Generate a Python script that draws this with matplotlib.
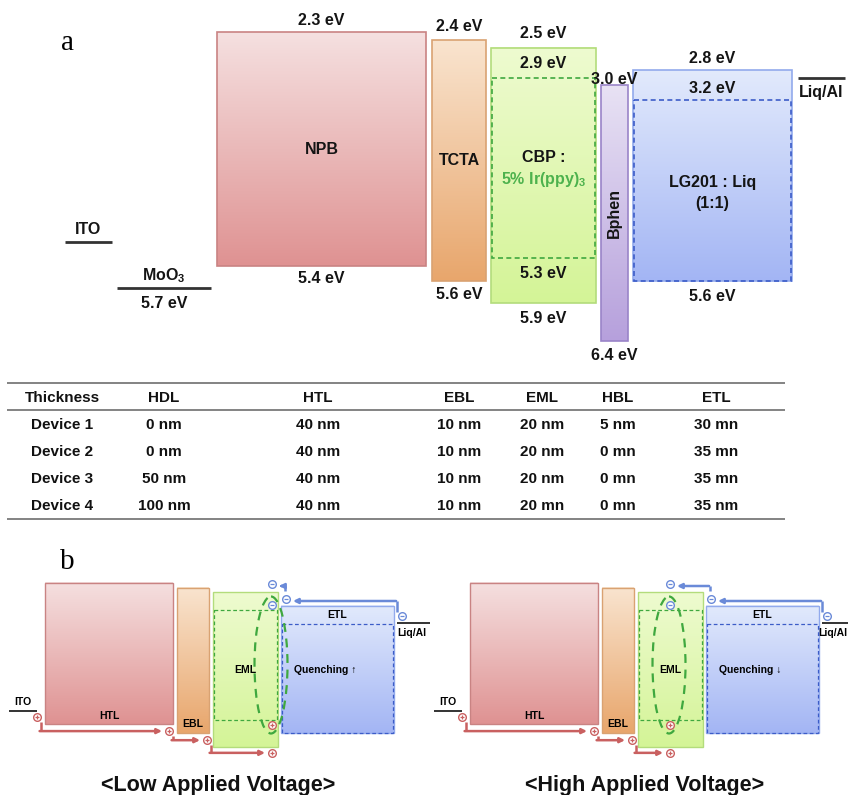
import numpy as np
import matplotlib
matplotlib.use('Agg')
import matplotlib.pyplot as plt
from matplotlib.patches import Rectangle, Ellipse
from matplotlib.colors import to_rgb

plt.rcParams['font.family'] = ['Liberation Sans', 'DejaVu Sans']
plt.rcParams['font.weight'] = 'bold'
plt.rcParams['mathtext.fontset'] = 'custom'
plt.rcParams['mathtext.rm'] = 'Liberation Sans:bold'
plt.rcParams['mathtext.bf'] = 'Liberation Sans:bold'

# ---------------- data: panel a (energy levels, eV) ----------------
layers = ['NPB', 'TCTA', 'CBP', 'Bphen', 'LG201']
lumo = [2.3, 2.4, 2.5, 3.0, 2.8]
homo = [5.4, 5.6, 5.9, 6.4, 5.6]
dopant_levels = [2.9, 5.3]      # Ir(ppy)3 inside CBP
etl_inner_lumo = 3.2            # LG201:Liq
ito_level = 5.09
moo3_level = 5.7
liqal_level = 2.9

# ---------------- data: table ----------------
table_cols = ['Thickness', 'HDL', 'HTL', 'EBL', 'EML', 'HBL', 'ETL']
device_names = ['Device 1', 'Device 2', 'Device 3', 'Device 4']
hdl = ['0 nm', '0 nm', '50 nm', '100 nm']
htl = ['40 nm', '40 nm', '40 nm', '40 nm']
ebl = ['10 nm', '10 nm', '10 nm', '10 nm']
eml = ['20 nm', '20 nm', '20 nm', '20 mn']
hbl = ['5 nm', '0 mn', '0 mn', '0 mn']
etl = ['30 mn', '35 mn', '35 mn', '35 nm']

# ---------------- data: panel b (schematic) ----------------
b_layers = ['HTL', 'EBL', 'EML', 'ETL']
b_lumo = [2.3, 2.4, 2.5, 2.8]
b_homo = [5.4, 5.6, 5.9, 5.6]
b_eml_inner = [2.9, 5.3]
b_etl_inner = 3.2
b_ito = 5.11
b_liqal = 3.18
b_titles = ['<Low Applied Voltage>', '<High Applied Voltage>']
b_quench = ['Quenching \u2191', 'Quenching \u2193']

# ---------------- styling ----------------
W, H = 848, 795
fig = plt.figure(figsize=(W / 100, H / 100), dpi=100)

col_top = ['#f5e0e0', '#f9e4cf', '#eefbd0', '#e8e2f4', '#e2eafc']
col_bot = ['#df9292', '#e8a66c', '#d4f497', '#b6a0dc', '#a3b5f4']
col_edge = ['#c98383', '#d9a272', '#b3dc7c', '#9a84c8', '#92aaec']
green_dash = '#3fa83f'
blue_dash = '#3c5cc8'

A_SCALE, A_OFF = 75.2, -140.5   # pixel = A_OFF + A_SCALE*E
B_SCALE, B_OFF = 45.5, 478.4


def Ea(py):
    return (py - A_OFF) / A_SCALE


def Eb(py):
    return (py - B_OFF) / B_SCALE


def grad_rect(ax, x0, x1, etop, ebot, ctop, cbot, edge, z=1, lw=1.0):
    n = 200
    t = np.linspace(0, 1, n)[:, None]
    c0 = np.array(to_rgb(ctop))
    c1 = np.array(to_rgb(cbot))
    img = (c0[None, :] * (1 - t) + c1[None, :] * t)[:, None, :]
    ax.imshow(img, extent=(x0, x1, ebot, etop), origin='upper', aspect='auto',
              interpolation='bilinear', zorder=z)
    ax.add_patch(Rectangle((x0, etop), x1 - x0, ebot - etop, fill=False,
                           ec=edge, lw=lw, zorder=z + 0.5))


# ================= panel a =================
ax_a = fig.add_axes([0, 1 - 370 / H, 1, 370 / H])
ax_a.set_axis_off()
a_x0 = [217, 432, 491, 601, 633]
a_x1 = [426, 486, 596, 628, 792]
fs = 11.5
txtc = '#141414'

for i, name in enumerate(layers):
    grad_rect(ax_a, a_x0[i], a_x1[i], lumo[i], homo[i], col_top[i], col_bot[i], col_edge[i], z=1, lw=1.2)

# dashed inner levels
ax_a.add_patch(Rectangle((a_x0[2] + 1, dopant_levels[0]), a_x1[2] - a_x0[2] - 2,
                         dopant_levels[1] - dopant_levels[0], fill=False, ec=green_dash,
                         lw=1.2, ls=(0, (3, 2)), zorder=3))
ax_a.add_patch(Rectangle((a_x0[4] + 1, etl_inner_lumo), a_x1[4] - a_x0[4] - 2,
                         homo[4] - etl_inner_lumo, fill=False, ec=blue_dash,
                         lw=1.2, ls=(0, (3, 2)), zorder=3))


def la(x, e, dpx, s, **kw):
    ax_a.text(x, e + dpx / A_SCALE, s, ha='center', va='center', fontsize=fs,
              color=txtc, zorder=5, **kw)


cx = [(a_x0[i] + a_x1[i]) / 2 for i in range(len(layers))]
top_off = [-12, -13, -14, -6, -12]
bot_off = [13, 14, 15, 15, 16]
for i in range(len(layers)):
    la(cx[i], lumo[i], top_off[i], f'{lumo[i]:.1f} eV')
    la(cx[i], homo[i], bot_off[i], f'{homo[i]:.1f} eV')
la(cx[2], dopant_levels[0], -14, f'{dopant_levels[0]:.1f} eV')
la(cx[2], dopant_levels[1], 15, f'{dopant_levels[1]:.1f} eV')
la(cx[4], etl_inner_lumo, -12, f'{etl_inner_lumo:.1f} eV')

# layer names
la(cx[0], (lumo[0] + homo[0]) / 2, 0, 'NPB')
la(cx[1], (lumo[1] + homo[1]) / 2, 0, 'TCTA')
mid = (lumo[2] + homo[2]) / 2
la(cx[2], mid, -18, 'CBP :')
ax_a.text(cx[2], mid + 4 / A_SCALE, '5% Ir(ppy)$_\\mathbf{3}$', ha='center', va='center',
          fontsize=fs, color='#4db24d', zorder=5)
ax_a.text(cx[3], (lumo[3] + homo[3]) / 2, 'Bphen', rotation=90, ha='center', va='center',
          fontsize=fs, color=txtc, zorder=5)
mid4 = (etl_inner_lumo + homo[4]) / 2
la(cx[4], mid4, -8, 'LG201 : Liq')
la(cx[4], mid4, 13, '(1:1)')

# electrodes
ax_a.plot([65, 112], [ito_level, ito_level], color='#333333', lw=2.0, solid_capstyle='butt')
la(88, ito_level, -13, 'ITO')
ax_a.plot([117, 211], [moo3_level, moo3_level], color='#333333', lw=2.0, solid_capstyle='butt')
la(164, moo3_level, -12, 'MoO$_3$')
la(164, moo3_level, 15, f'{moo3_level:.1f} eV')
ax_a.plot([798, 845], [liqal_level, liqal_level], color='#333333', lw=2.0, solid_capstyle='butt')
la(821, liqal_level, 15, 'Liq/Al')

ax_a.set_xlim(0, W)
ax_a.set_ylim(Ea(370), Ea(0))

# ================= overlay: table & panel letters =================
ax_t = fig.add_axes([0, 0, 1, 1], facecolor='none')
ax_t.set_axis_off()
ax_t.set_xlim(0, W)
ax_t.set_ylim(H, 0)

ax_t.text(67, 43, 'a', fontsize=21, family=['Liberation Serif', 'DejaVu Serif'],
          fontweight='normal', ha='center', va='center')
ax_t.text(67, 562, 'b', fontsize=21, family=['Liberation Serif', 'DejaVu Serif'],
          fontweight='normal', ha='center', va='center')

col_x = [62, 164, 318, 459, 542, 618, 716]
row_y = [398, 425, 452, 479, 506]
for j, c in enumerate(table_cols):
    ax_t.text(col_x[j], row_y[0], c, ha='center', va='center', fontsize=11, color='#111111')
rows = list(zip(device_names, hdl, htl, ebl, eml, hbl, etl))
for r, vals in enumerate(rows):
    for j, v in enumerate(vals):
        ax_t.text(col_x[j], row_y[r + 1], v, ha='center', va='center', fontsize=11, color='#111111')
for yy in [383, 410, 519]:
    ax_t.plot([7, 785], [yy, yy], color='#7a7a7a', lw=1.3, solid_capstyle='butt')

for k, t in enumerate(b_titles):
    ax_t.text([218, 645][k], 785, t, ha='center', va='center', fontsize=15.5, color='#111111')

# ================= panel b =================
ax_b = fig.add_axes([0, 0, 1, 255 / H], facecolor='none')
ax_b.set_axis_off()
b_x0 = [45, 177, 213, 281]
b_x1 = [173, 209, 278, 394]
layer_idx = [0, 1, 2, 4]
red = '#c96060'
blue = '#6a8ad8'
fsb = 7.5


def pb(dpx):
    return dpx / B_SCALE


def hole(x, e):
    ax_b.plot([x], [e], marker='o', ms=5.5, mfc='white', mec=red, mew=1.0, zorder=8)
    ax_b.plot([x], [e], marker='+', ms=3.5, mec=red, mew=0.9, zorder=9)


def electron(x, e):
    ax_b.plot([x], [e], marker='o', ms=5.5, mfc='white', mec=blue, mew=1.0, zorder=8)
    ax_b.plot([x], [e], marker='_', ms=3.5, mec=blue, mew=0.9, zorder=9)


def l_arrow(xv, e0, e1, x2, color):
    ax_b.plot([xv, xv], [e0, e1], color=color, lw=1.8, zorder=7, solid_capstyle='butt')
    ax_b.annotate('', xy=(x2, e1), xytext=(xv - 0.9, e1),
                  arrowprops=dict(arrowstyle='-|>', color=color, lw=1.8,
                                  shrinkA=0, shrinkB=0, mutation_scale=7), zorder=7)


for k in range(2):
    dx = 425 * k
    X0 = [x + dx for x in b_x0]
    X1 = [x + dx for x in b_x1]
    for i, name in enumerate(b_layers):
        li = layer_idx[i]
        grad_rect(ax_b, X0[i], X1[i], b_lumo[i], b_homo[i], col_top[li], col_bot[li], col_edge[li], z=1, lw=1.0)
    ax_b.add_patch(Rectangle((X0[2] + 1, b_eml_inner[0]), X1[2] - X0[2] - 2,
                             b_eml_inner[1] - b_eml_inner[0], fill=False, ec=green_dash,
                             lw=0.9, ls=(0, (3, 2)), zorder=3))
    ax_b.add_patch(Rectangle((X0[3] + 1, b_etl_inner), X1[3] - X0[3] - 2,
                             b_homo[3] - b_etl_inner, fill=False, ec=blue_dash,
                             lw=0.9, ls=(0, (3, 2)), zorder=3))
    cxb = [(X0[i] + X1[i]) / 2 for i in range(4)]
    ax_b.text(cxb[0], b_homo[0] - pb(8), 'HTL', ha='center', va='center', fontsize=fsb, zorder=6)
    ax_b.text(cxb[1], b_homo[1] - pb(9), 'EBL', ha='center', va='center', fontsize=fsb, zorder=6)
    ax_b.text(cxb[2], Eb(670), 'EML', ha='center', va='center', fontsize=fsb, zorder=6)
    ax_b.text(cxb[3], (b_lumo[3] + b_etl_inner) / 2, 'ETL', ha='center', va='center', fontsize=fsb, zorder=6)
    ax_b.text(X0[3] + 44, Eb(670), b_quench[k], ha='center', va='center', fontsize=fsb, zorder=6)

    # electrodes
    ax_b.plot([9 + dx, 37 + dx], [b_ito, b_ito], color='#333333', lw=1.4, solid_capstyle='butt')
    ax_b.text(23 + dx, b_ito - pb(9), 'ITO', ha='center', va='center', fontsize=fsb)
    ax_b.plot([397 + dx, 430 + dx], [b_liqal, b_liqal], color='#333333', lw=1.4, solid_capstyle='butt')
    if k == 0:
        ax_b.text(397 + dx, b_liqal + pb(10), 'Liq/Al', ha='left', va='center', fontsize=fsb)
    else:
        ax_b.text(W - 1, b_liqal + pb(10), 'Liq/Al', ha='right', va='center', fontsize=fsb)

    # ellipse (recombination zone)
    ecx = [271, 244][k] + dx
    ax_b.add_patch(Ellipse((ecx, Eb(665)), 33, pb(137), fill=False, ec=green_dash,
                           lw=1.6, ls=(0, (4, 3)), zorder=6))

    # holes & hole paths
    hx_last = [272, 245][k] + dx
    h_pts = [(37 + dx, b_ito + pb(6)),
             (169 + dx, b_homo[0] + pb(7)),
             (207 + dx, b_homo[1] + pb(7)),
             (hx_last, b_homo[2] + pb(6))]
    for j in range(3):
        (xa, ea), (xb, eb) = h_pts[j], h_pts[j + 1]
        l_arrow(xa + 3.5, ea + pb(5), eb, xb - 7, red)
    for (x, e) in h_pts:
        hole(x, e)
    hole(hx_last, Eb(725))

    # electrons & electron paths
    l_arrow(397 + dx, Eb(612), Eb(601), 293 + dx, blue)
    hook_end = [279, 252][k] + dx
    l_arrow(285 + dx, Eb(591), Eb(586), hook_end, blue)
    electron(402 + dx, b_liqal - pb(7))
    electron(286 + dx, Eb(599))
    electron(hx_last, Eb(605))
    electron(hx_last, Eb(584))

ax_b.set_xlim(0, W)
ax_b.set_ylim(Eb(795), Eb(540))

fig.savefig('out.png', dpi=100)
